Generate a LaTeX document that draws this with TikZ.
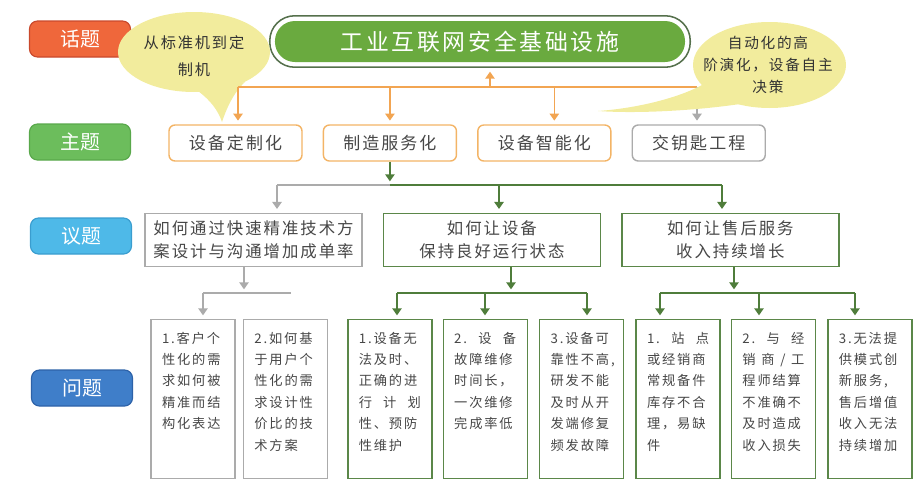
\documentclass[tikz,border=0pt]{standalone}
\usepackage{fontspec}
\setmainfont{Noto Sans CJK SC}
\newfontfamily\widefont[LetterSpace=12]{Noto Sans CJK SC}
\newfontfamily\probfont[LetterSpace=14]{Noto Sans CJK SC}
\usetikzlibrary{arrows.meta,positioning,fit}
\definecolor{tagred}{HTML}{EF673B}
\definecolor{tagredline}{HTML}{C9492C}
\definecolor{taggreen}{HTML}{6CBD5C}
\definecolor{taggreenline}{HTML}{59A84B}
\definecolor{tagcyan}{HTML}{4EB9E8}
\definecolor{tagcyanline}{HTML}{3A9DCF}
\definecolor{tagblue}{HTML}{3F7EC9}
\definecolor{tagblueline}{HTML}{2D62A8}
\definecolor{titlegreen}{HTML}{6AAA3F}
\definecolor{framegreen}{HTML}{55704C}
\definecolor{orangeline}{HTML}{F2A552}
\definecolor{orangebox}{HTML}{F3B466}
\definecolor{greyline}{HTML}{ABABAB}
\definecolor{darkgreen}{HTML}{4F7D3B}
\definecolor{boxgreen}{HTML}{5B8749}
\definecolor{bubblefill}{HTML}{F2EC9D}
\definecolor{textgray}{HTML}{474747}

\begin{document}
\begin{tikzpicture}[
  x=0.03cm,y=-0.03cm,
  tag/.style={line width=1pt,rounded corners=0.24cm,minimum width=3.03cm,minimum height=1.08cm,inner sep=0pt,text=white,font=\fontsize{17pt}{17pt}\selectfont},
  theme/.style={draw=orangebox,line width=1.2pt,fill=white,rounded corners=0.18cm,minimum width=3.99cm,minimum height=1.08cm,inner sep=0pt,text=textgray,font=\widefont\fontsize{14.5pt}{14.5pt}\selectfont},
  issue/.style={line width=1.2pt,fill=white,minimum width=6.51cm,minimum height=1.6cm,inner sep=0pt,align=center,text=textgray,font=\widefont\fontsize{14pt}{19.6pt}\selectfont},
  prob/.style={line width=1.2pt,fill=white,text width=1.86cm,inner xsep=0.33cm,inner ysep=0.4cm,text height=0.3cm,text depth=3.67cm,align=left,anchor=north,text=textgray,font=\probfont\fontsize{11.3pt}{18.3pt}\selectfont},
  bubtext/.style n args={2}{align=center,inner sep=0pt,text=black!80,font=\widefont\fontsize{#1}{#2}\selectfont},
  oline/.style={line width=1.3pt,draw=orangeline},
  gline/.style={line width=1.3pt,draw=greyline},
  dline/.style={line width=1.3pt,draw=darkgreen},
  oarr/.style={oline,-{Triangle[width=8pt,length=6pt]},shorten >=0.11cm},
  garr/.style={gline,-{Triangle[width=8pt,length=6pt]},shorten >=0.11cm},
  darr/.style={dline,-{Triangle[width=8pt,length=6pt]},shorten >=0.11cm}
]
  \useasboundingbox (0,0) rectangle (918,500);

  % row labels
  \node[tag,draw=tagredline,fill=tagred] (tag1) at (80,39) {话题};
  \node[tag,draw=taggreenline,fill=taggreen] (tag2) at (80,142) {主题};
  \node[tag,draw=tagcyanline,fill=tagcyan] (tag3) at (81,236) {议题};
  \node[tag,draw=tagblueline,fill=tagblue] (tag4) at (82,388) {问题};

  % title
  \node[fill=titlegreen,rounded corners=0.6cm,minimum width=12.3cm,minimum height=1.23cm,inner sep=0pt,text=white,font=\widefont\fontsize{19.5pt}{19.5pt}\selectfont] (title) at (480,41.5) {工业互联网安全基础设施};
  \node[draw=framegreen,line width=1.3pt,rounded corners=0.75cm,fit=(title),inner sep=0.15cm] (frame) {};

  % left bubble (behind the lines)
  \fill[bubblefill] (194,52) ellipse [x radius=76, y radius=40];
  \fill[bubblefill] (198,91) .. controls (210,100) and (218,110) .. (222,122) .. controls (226,110) and (233,93) .. (245,82) -- cycle;
  \node[bubtext={13pt}{23pt}] (bubL) at (194,56.5) {从标准机到定\\制机};

  % themes
  \node[theme] (th1) at (235.5,143) {设备定制化};
  \node[theme,right=0.6cm of th1] (th2) {制造服务化};
  \node[theme,right=0.6cm of th2] (th3) {设备智能化};
  \node[theme,draw=greyline,right=0.6cm of th3] (th4) {交钥匙工程};

  \coordinate (obus) at (238,87);
  \coordinate (gbus) at (697,87);
  \coordinate (upbus) at (490,87);
  \draw[oline] (obus) -- (gbus);
  \draw[oarr] (upbus) -- (upbus |- frame.south);
  \draw[oarr] (obus) -- (obus |- th1.north);
  \draw[oarr] (th2.north |- obus) -- (th2.north);
  \draw[oarr] ([xshift=0.3cm]th3.north |- obus) -- ([xshift=0.3cm]th3.north);
  \draw[garr] (gbus) -- (gbus |- th4.north);

  % issues
  \node[issue,draw=greyline] (isA) at (253.5,240) {如何通过快速精准技术方\\案设计与沟通增加成单率};
  \node[issue,draw=boxgreen,right=0.6cm of isA] (isB) {如何让设备\\保持良好运行状态};
  \node[issue,draw=boxgreen,right=0.6cm of isB] (isC) {如何让售后服务\\收入持续增长};

  \coordinate (sA) at (277,185);
  \coordinate (sB) at (499,185);
  \coordinate (sC) at (722,185);
  \draw[darr] (th2.south) -- (th2.south |- sA);
  \draw[gline] (sA) -- (th2.south |- sA);
  \draw[dline] (th2.south |- sA) -- (sC);
  \draw[garr] (sA) -- (sA |- isA.north);
  \draw[darr] (sB) -- (sB |- isB.north);
  \draw[darr] (sC) -- (sC |- isC.north);

  % problems
  \node[prob,draw=greyline] (pr1) at (193,319) {1.客户个\\性化的需\\求如何被\\精准而结\\构化表达};
  \node[prob,draw=greyline,right=0.21cm of pr1] (pr2) {2.如何基\\于用户个\\性化的需\\求设计性\\价比的技\\术方案};
  \node[prob,draw=boxgreen,right=0.57cm of pr2] (pr3) {1.设备无\\法及时、\\正确的进\\行\hfill 计\hfill 划\\性、预防\\性维护};
  \node[prob,draw=boxgreen,right=0.3cm of pr3] (pr4) {2.\hfill 设\hfill 备\\故障维修\\时间长，\\一次维修\\完成率低};
  \node[prob,draw=boxgreen,right=0.33cm of pr4] (pr5) {3.设备可\\靠性不高,\\研发不能\\及时从开\\发端修复\\频发故障};
  \node[prob,draw=boxgreen,right=0.33cm of pr5] (pr6) {1.\hfill 站\hfill 点\\或经销商\\常规备件\\库存不合\\理，易缺\\件};
  \node[prob,draw=boxgreen,right=0.3cm of pr6] (pr7) {2.\hfill 与\hfill 经\\销\hfill 商\hfill /\hfill 工\\程师结算\\不准确不\\及时造成\\收入损失};
  \node[prob,draw=boxgreen,right=0.33cm of pr7] (pr8) {3.无法提\\供模式创\\新服务,\\售后增值\\收入无法\\持续增加};

  \coordinate (qA) at (244,293);
  \coordinate (qA1) at (203,293);
  \coordinate (qA2) at (291,293);
  \draw[garr] (qA |- isA.south) -- (qA);
  \draw[gline] (qA1) -- (qA2);
  \draw[garr] (qA1) -- (qA1 |- pr1.north);

  \coordinate (qB) at (511,293);
  \coordinate (qB1) at (397,293);
  \coordinate (qB2) at (485,293);
  \coordinate (qB3) at (587,293);
  \draw[darr] (qB |- isB.south) -- (qB);
  \draw[dline] (qB1) -- (qB3);
  \draw[darr] (qB1) -- (qB1 |- pr3.north);
  \draw[darr] (qB2) -- (qB2 |- pr4.north);
  \draw[darr] (qB3) -- (qB3 |- pr5.north);

  \coordinate (qC) at (734,293);
  \coordinate (qC1) at (660,293);
  \coordinate (qC2) at (759,293);
  \coordinate (qC3) at (855,293);
  \draw[darr] (qC |- isC.south) -- (qC);
  \draw[dline] (qC1) -- (qC3);
  \draw[darr] (qC1) -- (qC1 |- pr6.north);
  \draw[darr] (qC2) -- (qC2 |- pr7.north);
  \draw[darr] (qC3) -- (qC3 |- pr8.north);

  % right bubble (over the orange line)
  \fill[bubblefill] (769.5,65) ellipse [x radius=76.5, y radius=43];
  \fill[bubblefill] (702,85) .. controls (680,97) and (640,108) .. (598,111) .. controls (640,114) and (700,110) .. (740,104) -- cycle;
  \node[bubtext={12.5pt}{18.8pt}] (bubR) at (768,65) {自动化的高\\阶演化，设备自主\\决策};
\end{tikzpicture}
\end{document}
